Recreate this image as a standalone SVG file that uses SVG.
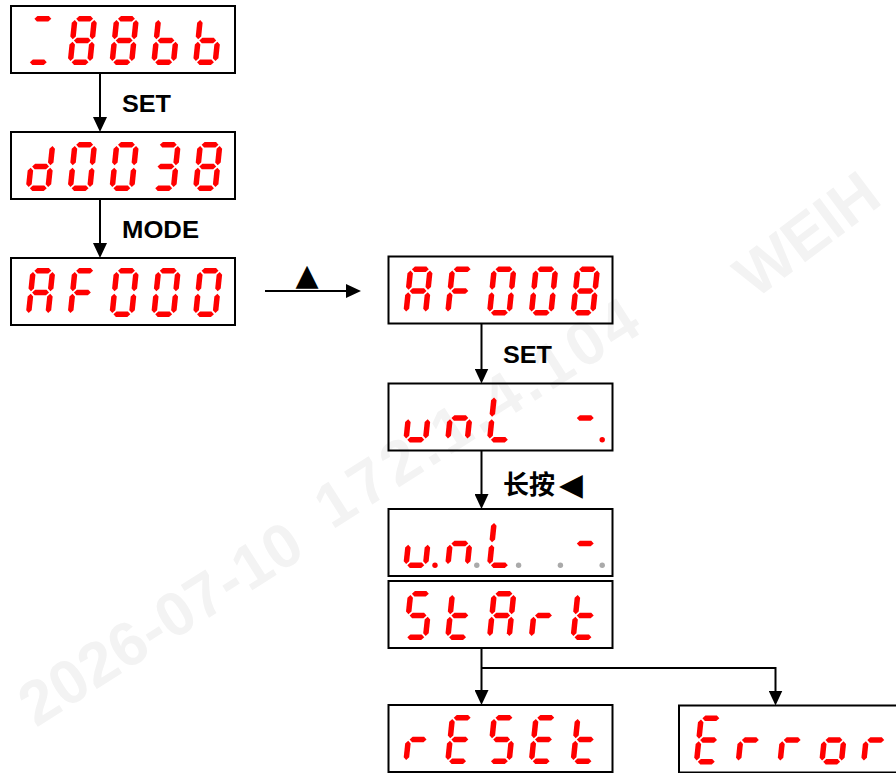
<svg xmlns="http://www.w3.org/2000/svg" xmlns:xlink="http://www.w3.org/1999/xlink" width="896" height="773" viewBox="0 0 896 773">
<style>
.box{fill:none;stroke:#000;stroke-width:2}
.led{fill:#ff0000}
.off{fill:#aaaaaa}
.conn{fill:none;stroke:#000;stroke-width:2}
.lbl{font-family:"Liberation Sans",Arial,sans-serif;font-weight:bold;font-size:23px;fill:#000}
.cjk{font-family:"Liberation Sans","Noto Sans CJK SC",sans-serif;font-weight:bold;font-size:26px;fill:#000}
.sym{font-family:"DejaVu Sans",sans-serif;fill:#000}
.wm{font-family:"Liberation Sans",Arial,sans-serif;font-weight:bold;font-size:62px;fill:#f3f3f3}
</style>
<defs>
<marker id="ah" viewBox="0 0 15 14" refX="7" refY="7" markerWidth="15" markerHeight="14" markerUnits="userSpaceOnUse" orient="auto"><path d="M0,0 L15,7 L0,14 Z" fill="#000"/></marker>
<polygon id="sa" points="4.05,-46.25 6.8,-49 18.2,-49 20.95,-46.25 18.2,-43.5 6.8,-43.5"/>
<polygon id="sg" points="4.05,-24.5 6.8,-27.25 18.2,-27.25 20.95,-24.5 18.2,-21.75 6.8,-21.75"/>
<polygon id="sd" points="4.05,-2.75 6.8,-5.5 18.2,-5.5 20.95,-2.75 18.2,0 6.8,0"/>
<polygon id="sf" points="2.75,-44.95 5.5,-42.2 5.5,-28.55 2.75,-25.8 0,-28.55 0,-42.2"/>
<polygon id="sb" points="22.25,-44.95 25,-42.2 25,-28.55 22.25,-25.8 19.5,-28.55 19.5,-42.2"/>
<polygon id="se" points="2.75,-23.2 5.5,-20.45 5.5,-6.8 2.75,-4.05 0,-6.8 0,-20.45"/>
<polygon id="sc" points="22.25,-23.2 25,-20.45 25,-6.8 22.25,-4.05 19.5,-6.8 19.5,-20.45"/>
<circle id="dp" cx="32" cy="-2.7" r="2.7"/>
<g id="cAD" transform="skewX(-6)"><use href="#sa"/><use href="#sd"/></g>
<g id="c8" transform="skewX(-6)"><use href="#sa"/><use href="#sb"/><use href="#sc"/><use href="#sd"/><use href="#se"/><use href="#sf"/><use href="#sg"/></g>
<g id="cb" transform="skewX(-6)"><use href="#sc"/><use href="#sd"/><use href="#se"/><use href="#sf"/><use href="#sg"/></g>
<g id="cd" transform="skewX(-6)"><use href="#sb"/><use href="#sc"/><use href="#sd"/><use href="#se"/><use href="#sg"/></g>
<g id="c0" transform="skewX(-6)"><use href="#sa"/><use href="#sb"/><use href="#sc"/><use href="#sd"/><use href="#se"/><use href="#sf"/></g>
<g id="c3" transform="skewX(-6)"><use href="#sa"/><use href="#sb"/><use href="#sc"/><use href="#sd"/><use href="#sg"/></g>
<g id="cA" transform="skewX(-6)"><use href="#sa"/><use href="#sb"/><use href="#sc"/><use href="#se"/><use href="#sf"/><use href="#sg"/></g>
<g id="cF" transform="skewX(-6)"><use href="#sa"/><use href="#se"/><use href="#sf"/><use href="#sg"/></g>
<g id="cu" transform="skewX(-6)"><use href="#sc"/><use href="#sd"/><use href="#se"/></g>
<g id="cn" transform="skewX(-6)"><use href="#sc"/><use href="#se"/><use href="#sg"/></g>
<g id="cL" transform="skewX(-6)"><use href="#sd"/><use href="#se"/><use href="#sf"/></g>
<g id="cdash" transform="skewX(-6)"><use href="#sg"/></g>
<g id="cS" transform="skewX(-6)"><use href="#sa"/><use href="#sc"/><use href="#sd"/><use href="#sf"/><use href="#sg"/></g>
<g id="ct" transform="skewX(-6)"><use href="#sd"/><use href="#se"/><use href="#sf"/><use href="#sg"/></g>
<g id="cr" transform="skewX(-6)"><use href="#se"/><use href="#sg"/></g>
<g id="cE" transform="skewX(-6)"><use href="#sa"/><use href="#sd"/><use href="#se"/><use href="#sf"/><use href="#sg"/></g>
<g id="co" transform="skewX(-6)"><use href="#sc"/><use href="#sd"/><use href="#se"/><use href="#sg"/></g>
</defs>
<rect width="896" height="773" fill="#fff"/>
<g id="watermark">
<text class="wm" transform="translate(36,728) rotate(-32.5)" textLength="322" lengthAdjust="spacing">2026-07-10</text>
<text class="wm" transform="translate(332,530) rotate(-32.5)" textLength="370" lengthAdjust="spacing">172.1.4.104</text>
<text class="wm" transform="translate(755,300) rotate(-37)">WEIH</text>
</g>
<g id="connectors">
<path class="conn" d="M100,73 V124" marker-end="url(#ah)"/>
<path class="conn" d="M100,199 V250" marker-end="url(#ah)"/>
<path class="conn" d="M265,291 H353" marker-end="url(#ah)"/>
<path class="conn" d="M481.5,323.5 V375.5" marker-end="url(#ah)"/>
<path class="conn" d="M481.5,450.5 V501" marker-end="url(#ah)"/>
<path class="conn" d="M481.5,648 V697" marker-end="url(#ah)"/>
<path class="conn" d="M481.5,668 H775.5 V697.5" marker-end="url(#ah)"/>
<text class="lbl" x="122" y="112" textLength="49" lengthAdjust="spacingAndGlyphs">SET</text>
<text class="lbl" x="122" y="237.5" textLength="77" lengthAdjust="spacingAndGlyphs">MODE</text>
<text class="sym" x="295.5" y="285" font-size="30">▲</text>
<text class="lbl" x="503" y="362.5" textLength="49" lengthAdjust="spacingAndGlyphs">SET</text>
<text class="cjk" x="503" y="494">长按<tspan class="sym" x="559" y="495" font-size="31">◀</tspan></text>
</g>
<g id="n1">
<rect class="box" x="11" y="6" width="224" height="67"/>
<g class="led"><use href="#cAD" x="25.5" y="65"/><use href="#c8" x="67.3" y="65"/><use href="#c8" x="109.1" y="65"/><use href="#cb" x="150.9" y="65"/><use href="#cb" x="192.7" y="65"/></g>
</g>
<g id="n2">
<rect class="box" x="11" y="132" width="224" height="67"/>
<g class="led"><use href="#cd" x="25.5" y="191"/><use href="#c0" x="67.3" y="191"/><use href="#c0" x="109.1" y="191"/><use href="#c3" x="150.9" y="191"/><use href="#c8" x="192.7" y="191"/></g>
</g>
<g id="n3">
<rect class="box" x="11" y="258" width="224" height="67"/>
<g class="led"><use href="#cA" x="25.5" y="317"/><use href="#cF" x="67.3" y="317"/><use href="#c0" x="109.1" y="317"/><use href="#c0" x="150.9" y="317"/><use href="#c0" x="192.7" y="317"/></g>
</g>
<g id="n4">
<rect class="box" x="388.5" y="256.5" width="224" height="67"/>
<g class="led"><use href="#cA" x="403" y="315.5"/><use href="#cF" x="444.8" y="315.5"/><use href="#c0" x="486.6" y="315.5"/><use href="#c0" x="528.4" y="315.5"/><use href="#c8" x="570.2" y="315.5"/></g>
</g>
<g id="n5">
<rect class="box" x="388.5" y="383.5" width="224" height="67"/>
<g class="led"><use href="#cu" x="403" y="442.5"/><use href="#cn" x="444.8" y="442.5"/><use href="#cL" x="486.6" y="442.5"/><use href="#cdash" x="570.2" y="442.5"/><use href="#dp" x="570.2" y="442.5"/></g>
</g>
<g id="n6">
<rect class="box" x="388.5" y="509" width="224" height="67"/>
<g class="led"><use href="#cu" x="403" y="568"/><use href="#dp" x="403" y="568"/><use href="#cn" x="444.8" y="568"/><use href="#cL" x="486.6" y="568"/><use href="#cdash" x="570.2" y="568"/></g>
<g class="off"><use href="#dp" x="444.8" y="568"/><use href="#dp" x="486.6" y="568"/><use href="#dp" x="528.4" y="568"/><use href="#dp" x="570.2" y="568"/></g>
</g>
<g id="n7">
<rect class="box" x="388.5" y="581" width="224" height="67"/>
<g class="led"><use href="#cS" x="403" y="640"/><use href="#ct" x="444.8" y="640"/><use href="#cA" x="486.6" y="640"/><use href="#cr" x="528.4" y="640"/><use href="#ct" x="570.2" y="640"/></g>
</g>
<g id="n8">
<rect class="box" x="388.5" y="705" width="224" height="67"/>
<g class="led"><use href="#cr" x="403" y="764"/><use href="#cE" x="444.8" y="764"/><use href="#cS" x="486.6" y="764"/><use href="#cE" x="528.4" y="764"/><use href="#ct" x="570.2" y="764"/></g>
</g>
<g id="n9">
<rect class="box" x="679" y="705.5" width="224" height="67"/>
<g class="led"><use href="#cE" x="693.5" y="764.5"/><use href="#cr" x="735.3" y="764.5"/><use href="#cr" x="777.1" y="764.5"/><use href="#co" x="818.9" y="764.5"/><use href="#cr" x="860.7" y="764.5"/></g>
</g>
</svg>
